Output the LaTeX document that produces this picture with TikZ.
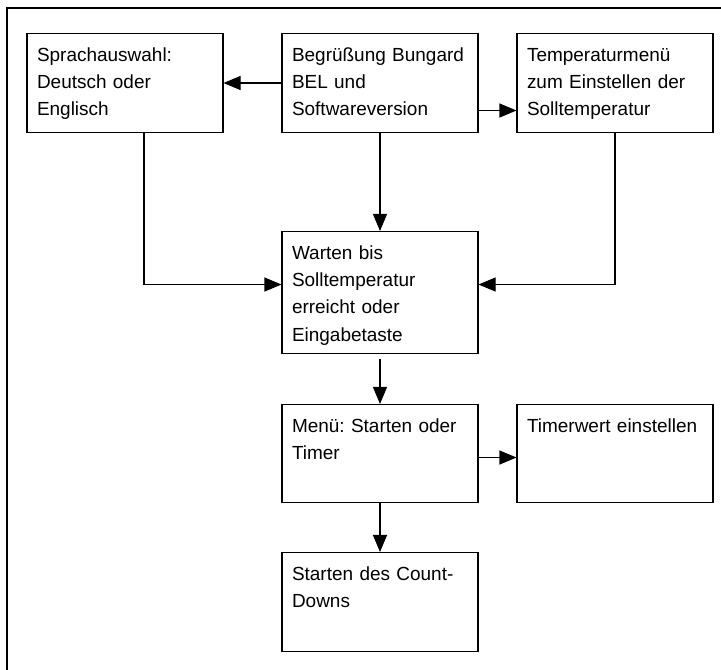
\documentclass[tikz,border=0pt]{standalone}
\usepackage{fontspec}
\setmainfont{Liberation Sans}
\usetikzlibrary{arrows.meta}
\frenchspacing

\tikzset{
  stepbox/.style={draw, anchor=north, align=left, text width=3.52cm,
    inner xsep=0.2cm, inner ysep=0pt, text height=0.55cm,
    font=\fontsize{10.8}{15.6}\selectfont},
}

\begin{document}
\begin{tikzpicture}[scale=1, line width=0.6pt, >={Triangle[length=0.34cm, width=0.28cm]}]
\useasboundingbox (0, 0) rectangle (14.42, 13.4);
\draw (0.14, 0) -- (0.14, 13.24) -- (14.42, 13.24);
\node (a)[stepbox, text depth=1.43cm] at (2.5, 12.74) {Sprachauswahl:\\Deutsch oder\\Englisch};
\node (b)[stepbox, text depth=1.43cm] at (7.6, 12.74) {Begrüßung Bungard\\BEL und\\Softwareversion};
\node (c)[stepbox, text depth=1.43cm] at (12.3, 12.74) {Temperaturmenü\\zum Einstellen der\\Solltemperatur};
\node (d)[stepbox, text depth=1.89cm] at (7.6, 8.78) {Warten bis\\Solltemperatur\\erreicht oder\\Eingabetaste};
\node (e)[stepbox, text depth=1.41cm] at (7.6, 5.32) {Menü: Starten oder\\Timer};
\node (f)[stepbox, text depth=1.41cm] at (12.3, 5.32) {Timerwert einstellen};
\node (g)[stepbox, text depth=1.43cm] at (7.6, 2.36) {Starten des Count-\\Downs};
\draw[->] (b.west) -- (a.east);
\draw[->] ([yshift=-0.55cm]b.east) -- ([yshift=-0.55cm]c.west);
\draw[->] (b.south) -- (d.north);
\draw[->] ([xshift=0.38cm]a.south) |- ([yshift=0.16cm]d.west);
\draw[->] (c.south) |- ([yshift=0.16cm]d.east);
\draw[->] ([yshift=-0.1cm]d.south) -- (e.north);
\draw[->] ([yshift=-0.08cm]e.east) -- ([yshift=-0.08cm]f.west);
\draw[->] (e.south) -- (g.north);
\end{tikzpicture}
\end{document}
